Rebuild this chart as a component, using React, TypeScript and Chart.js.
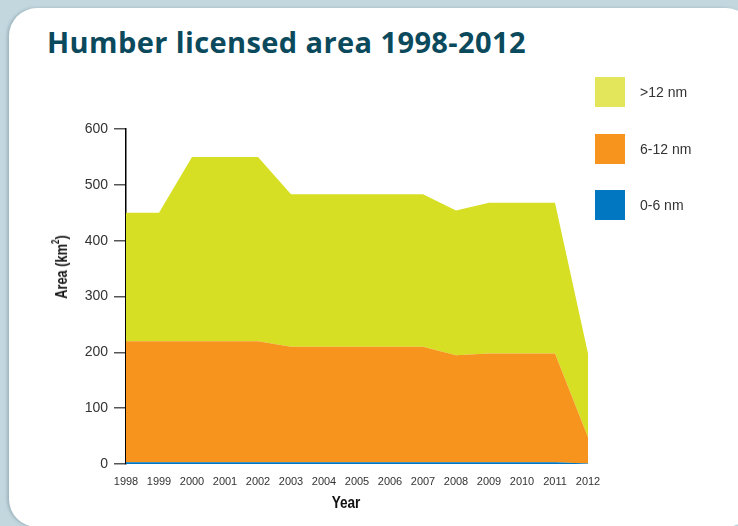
import React, { useEffect, useRef } from "react";
import { Chart, registerables } from "chart.js";

Chart.register(...registerables);

const years = ["1998","1999","2000","2001","2002","2003","2004","2005","2006","2007","2008","2009","2010","2011","2012"];
// stacked segment values (km²)
const zone0to6 = [3,3,3,3,3,3,3,3,3,3,3,3,3,3,1];
const zone6to12 = [217,217,217,217,217,207,207,207,207,207,192,195,195,195,47];
const zoneOver12 = [230,230,330,330,330,273,273,273,273,273,259,270,270,270,150];
const yTicks = [0,100,200,300,400,500,600];

const YELLOW = "#d6df23";
const YELLOW_LEGEND = "#e3e65a";
const ORANGE = "#f7941e";
const BLUE = "#0077c0";

export default function App() {
  const ref = useRef<HTMLCanvasElement | null>(null);

  useEffect(() => {
    if (!ref.current) return;
    const chart = new Chart(ref.current, {
      type: "line",
      data: {
        labels: years,
        datasets: [
          { label: "0-6 nm", data: zone0to6, backgroundColor: BLUE, borderColor: BLUE, borderWidth: 0, pointRadius: 0, fill: "origin", tension: 0 },
          { label: "6-12 nm", data: zone6to12, backgroundColor: ORANGE, borderColor: ORANGE, borderWidth: 0, pointRadius: 0, fill: "-1", tension: 0 },
          { label: ">12 nm", data: zoneOver12, backgroundColor: YELLOW, borderColor: YELLOW, borderWidth: 0, pointRadius: 0, fill: "-1", tension: 0 },
        ],
      },
      options: {
        responsive: false,
        animation: false,
        layout: { padding: { left: 70, top: 129, right: 150, bottom: 0 } },
        plugins: { legend: { display: false }, tooltip: { enabled: false } },
        scales: {
          x: {
            offset: false,
            grid: { display: false, drawTicks: false },
            border: { display: false },
            ticks: { color: "#333", font: { family: "'Liberation Sans', Arial, sans-serif", size: 11 }, padding: 11, maxRotation: 0, autoSkip: false },
            title: { display: false },
            afterFit: (s: any) => { s.height = 62; },
          },
          y: {
            stacked: true,
            min: 0,
            max: 600,
            afterBuildTicks: (s: any) => { s.ticks = yTicks.map((v) => ({ value: v })); },
            grid: { drawOnChartArea: false, drawTicks: true, tickLength: 12, color: "#555", lineWidth: 1.5 },
            border: { display: true, color: "#000", width: 1.5 },
            ticks: { color: "#333", font: { family: "'Liberation Sans', Arial, sans-serif", size: 14 }, padding: 6 },
            afterFit: (s: any) => { s.width = 56; },
          },
        },
      },
    });
    return () => chart.destroy();
  }, []);

  const legend = [
    { label: ">12 nm", color: YELLOW_LEGEND, top: 77 },
    { label: "6-12 nm", color: ORANGE, top: 134 },
    { label: "0-6 nm", color: BLUE, top: 190 },
  ];

  const axisTitleFont = "'Liberation Sans', Arial, sans-serif";

  return (
    <div style={{ position: "fixed", left: 0, top: 0, width: 738, height: 526, background: "#c3d7df", overflow: "hidden" }}>
      <div style={{ position: "absolute", left: 9, top: 8, width: 745, height: 519, background: "#fff", borderRadius: 28, boxShadow: "-2px 0 3px rgba(90,120,130,0.35)" }} />
      <div style={{ position: "absolute", left: 47, top: 25, fontFamily: "'Open Sans', sans-serif", fontWeight: 700, fontSize: 29, lineHeight: "34px", letterSpacing: 0.4, color: "#0b4a5d", whiteSpace: "nowrap" }}>
        Humber licensed area 1998-2012
      </div>
      <canvas ref={ref} width={738} height={526} style={{ position: "absolute", left: 0, top: 0 }} />
      <div style={{ position: "absolute", left: 62, top: 267, transform: "translate(-50%, -50%) rotate(-90deg) scaleX(0.8)", fontFamily: axisTitleFont, fontWeight: 700, fontSize: 16, lineHeight: "18px", color: "#111", whiteSpace: "nowrap" }}>
        Area (km<sup style={{ fontSize: 10, lineHeight: "10px", verticalAlign: "top", position: "relative", top: -2 }}>2</sup>)
      </div>
      <div style={{ position: "absolute", left: 346, top: 503, transform: "translate(-50%, -50%) scaleX(0.8)", fontFamily: axisTitleFont, fontWeight: 700, fontSize: 17, lineHeight: "20px", color: "#111", whiteSpace: "nowrap" }}>
        Year
      </div>
      {legend.map((l) => (
        <div key={l.label} style={{ position: "absolute", left: 595, top: l.top, height: 30, display: "flex", alignItems: "center" }}>
          <div style={{ width: 30, height: 30, background: l.color }} />
          <span style={{ marginLeft: 15, fontFamily: "'Liberation Sans', Arial, sans-serif", fontSize: 14, color: "#333" }}>{l.label}</span>
        </div>
      ))}
    </div>
  );
}
